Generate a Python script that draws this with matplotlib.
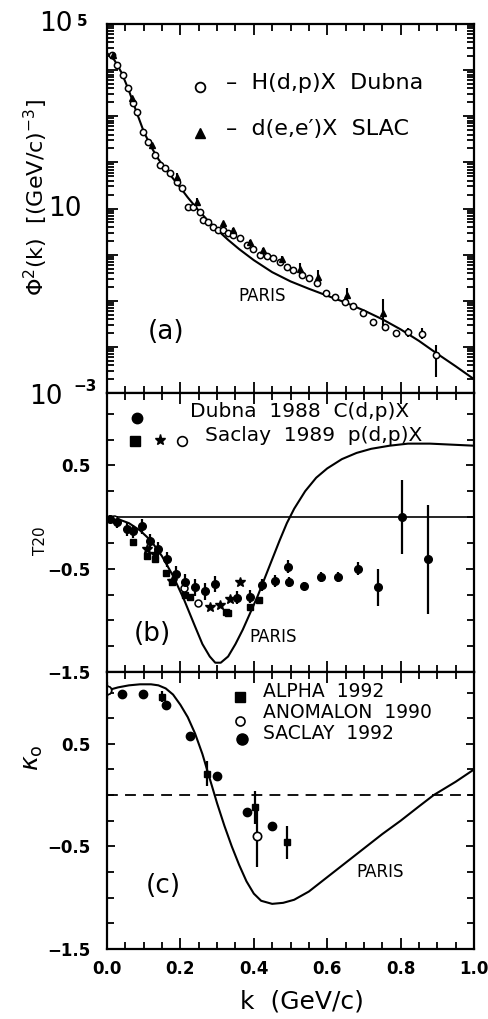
import numpy as np
import matplotlib
matplotlib.use("Agg")
import matplotlib.pyplot as plt
from matplotlib.ticker import MultipleLocator, FixedLocator, LogLocator, NullFormatter, FuncFormatter

plt.rcParams['font.family'] = ['DejaVu Sans']
plt.rcParams['mathtext.fontset'] = 'dejavusans'

# ---------------- Panel (a): momentum distribution (log10 values) ----------------
paris_a_k = [0.0, 0.02, 0.04, 0.06, 0.08, 0.10, 0.12, 0.14, 0.16, 0.18, 0.20, 0.22, 0.245,
             0.27, 0.30, 0.33, 0.36, 0.40, 0.45, 0.50, 0.55, 0.60, 0.65, 0.70, 0.75, 0.80,
             0.85, 0.90, 0.95, 1.0]
paris_a_log = [4.37, 4.22, 3.94, 3.55, 3.10, 2.67, 2.34, 2.07, 1.85, 1.65, 1.45, 1.24, 1.00,
               0.78, 0.54, 0.32, 0.12, -0.12, -0.38, -0.58, -0.74, -0.89, -1.04, -1.21,
               -1.40, -1.62, -1.87, -2.15, -2.42, -2.70]

dubna_a_k = [0.014, 0.027, 0.044, 0.057, 0.071, 0.082, 0.098, 0.112, 0.131, 0.144, 0.158,
             0.172, 0.191, 0.204, 0.221, 0.234, 0.253, 0.262, 0.275, 0.289, 0.302, 0.316,
             0.330, 0.343, 0.362, 0.381, 0.398, 0.417, 0.436, 0.452, 0.471, 0.490, 0.507,
             0.531, 0.550, 0.572, 0.597, 0.621, 0.649, 0.670, 0.698, 0.725, 0.757, 0.787,
             0.820, 0.858, 0.896]
dubna_a_log = [4.33, 4.11, 3.89, 3.61, 3.29, 3.09, 2.66, 2.44, 2.16, 1.94, 1.88,
               1.77, 1.57, 1.44, 1.03, 1.03, 0.92, 0.75, 0.70, 0.60, 0.53, 0.53,
               0.47, 0.42, 0.36, 0.21, 0.12, -0.01, -0.03, -0.08, -0.16, -0.27, -0.34,
               -0.44, -0.51, -0.62, -0.84, -0.92, -1.03, -1.12, -1.27, -1.46, -1.57, -1.70,
               -1.68, -1.72, -2.18]
dubna_a_err_lo = [0]*44 + [0.10, 0.12, 0.48]
dubna_a_err_hi = [0]*44 + [0.10, 0.12, 0.22]

slac_a_k = [0.016, 0.068, 0.123, 0.191, 0.245, 0.316, 0.343, 0.390, 0.425, 0.477,
            0.526, 0.575, 0.654, 0.752]
slac_a_log = [4.33, 3.39, 2.38, 1.68, 1.14, 0.68, 0.53, 0.27, 0.10, -0.10,
              -0.31, -0.49, -0.88, -1.27]
slac_a_err = [0, 0, 0, 0.08, 0.08, 0, 0.05, 0.05, 0.05, 0.08, 0.12, 0.15, 0.15, 0.30]

# ---------------- Panel (b): T20 ----------------
paris_b_k = [0.0, 0.03, 0.06, 0.09, 0.12, 0.15, 0.18, 0.21, 0.24, 0.26, 0.28, 0.295, 0.31,
             0.33, 0.35, 0.37, 0.39, 0.41, 0.43, 0.45, 0.47, 0.49, 0.51, 0.54, 0.57, 0.60,
             0.64, 0.68, 0.72, 0.77, 0.82, 0.88, 0.94, 1.0]
paris_b_v = [0.0, -0.02, -0.06, -0.13, -0.23, -0.38, -0.57, -0.80, -1.06, -1.23, -1.35,
             -1.41, -1.41, -1.35, -1.23, -1.09, -0.93, -0.77, -0.59, -0.41, -0.23, -0.06,
             0.08, 0.25, 0.38, 0.47, 0.56, 0.62, 0.66, 0.69, 0.71, 0.71, 0.70, 0.69]

dubna88_k = [0.008, 0.027, 0.054, 0.071, 0.095, 0.117, 0.139, 0.163, 0.188, 0.213, 0.240,
             0.267, 0.294, 0.354, 0.390, 0.422, 0.458, 0.493, 0.496, 0.537, 0.583, 0.629,
             0.684, 0.738, 0.804, 0.875]
dubna88_v = [-0.02, -0.05, -0.12, -0.14, -0.09, -0.23, -0.31, -0.41, -0.55, -0.63, -0.68,
             -0.72, -0.65, -0.78, -0.77, -0.66, -0.62, -0.48, -0.63, -0.67, -0.58, -0.58,
             -0.50, -0.68, 0.00, -0.41]
dubna88_err = [0.04, 0.06, 0.06, 0.06, 0.07, 0.07, 0.07, 0.07, 0.08, 0.08, 0.08,
               0.08, 0.08, 0.06, 0.06, 0.06, 0.06, 0.06, 0.05, 0.04, 0.05, 0.05,
               0.06, 0.18, 0.36, 0.53]

saclay_sq_k = [0.071, 0.109, 0.131, 0.161, 0.177, 0.213, 0.226, 0.324, 0.330, 0.390, 0.414]
saclay_sq_v = [-0.24, -0.38, -0.41, -0.54, -0.63, -0.75, -0.77, -0.92, -0.93, -0.87, -0.80]

saclay_star_k = [0.109, 0.131, 0.177, 0.281, 0.308, 0.335, 0.362]
saclay_star_v = [-0.31, -0.36, -0.62, -0.87, -0.85, -0.79, -0.63]

saclay_oc_k = [0.020, 0.210, 0.248]
saclay_oc_v = [-0.02, -0.69, -0.83]

# ---------------- Panel (c): kappa_0 ----------------
paris_c_k = [0.0, 0.03, 0.06, 0.09, 0.12, 0.14, 0.16, 0.18, 0.20, 0.22, 0.24, 0.26, 0.28,
             0.30, 0.32, 0.34, 0.36, 0.38, 0.40, 0.42, 0.45, 0.48, 0.51, 0.55, 0.60, 0.65,
             0.70, 0.75, 0.80, 0.85, 0.89, 0.95, 1.0]
paris_c_v = [1.02, 1.05, 1.07, 1.08, 1.08, 1.07, 1.04, 0.98, 0.88, 0.76, 0.60, 0.40, 0.16,
             -0.08, -0.30, -0.50, -0.68, -0.84, -0.96, -1.03, -1.06, -1.05, -1.02, -0.94,
             -0.80, -0.66, -0.52, -0.38, -0.25, -0.11, 0.0, 0.13, 0.25]

alpha_k = [0.150, 0.272, 0.403, 0.490]
alpha_v = [0.96, 0.21, -0.12, -0.46]
alpha_err = [0.05, 0.12, 0.16, 0.16]

anomalon_k = [0.0, 0.408]
anomalon_v = [1.02, -0.40]
anomalon_err = [0.08, 0.30]

saclay92_k = [0.0, 0.041, 0.098, 0.162, 0.226, 0.300, 0.381, 0.450]
saclay92_v = [1.02, 0.99, 0.99, 0.88, 0.58, 0.19, -0.16, -0.30]

xticks_major = [0.0, 0.2, 0.4, 0.6, 0.8, 1.0]

# ---------------- Figure ----------------
W, H = 488, 1019
fig = plt.figure(figsize=(W / 100, H / 100), dpi=100)
left, width = 107 / W, 367 / W
ax_a = fig.add_axes([left, 1 - 393 / H, width, 369 / H])
ax_b = fig.add_axes([left, 1 - 672 / H, width, 279 / H])
ax_c = fig.add_axes([left, 1 - 949 / H, width, 277 / H])

lw_axes = 1.6
for ax in (ax_a, ax_b, ax_c):
    for s in ax.spines.values():
        s.set_linewidth(lw_axes)
    ax.set_xlim(0, 1.0)
    ax.xaxis.set_major_locator(FixedLocator(xticks_major))
    ax.xaxis.set_minor_locator(MultipleLocator(0.05))
    ax.tick_params(which='both', direction='in', top=True, right=True, width=1.3)
    ax.tick_params(which='major', length=8)
    ax.tick_params(which='minor', length=5)
    ax.tick_params(axis='both', labelsize=12)
    ax.tick_params(axis='y', pad=12)
    ax.tick_params(axis='x', pad=8)

def fmt(v, p):
    return ('%.1f' % v).replace('-', '\u2212')

# ---- (a)
pa = [10 ** v for v in paris_a_log]
ax_a.plot(paris_a_k, pa, color='black', lw=1.5)
dv = np.array([10 ** v for v in dubna_a_log])
d_lo = dv - np.array([10 ** (v - e) for v, e in zip(dubna_a_log, dubna_a_err_lo)])
d_hi = np.array([10 ** (v + e) for v, e in zip(dubna_a_log, dubna_a_err_hi)]) - dv
ax_a.errorbar(dubna_a_k, dv, yerr=[d_lo, d_hi], fmt='o', mfc='white', mec='black',
              ms=4.5, mew=1.1, ecolor='black', elinewidth=1.5, capsize=0)
sv = np.array([10 ** v for v in slac_a_log])
s_lo = sv - np.array([10 ** (v - e) for v, e in zip(slac_a_log, slac_a_err)])
s_hi = np.array([10 ** (v + e) for v, e in zip(slac_a_log, slac_a_err)]) - sv
ax_a.errorbar(slac_a_k, sv, yerr=[s_lo, s_hi], fmt='^', color='black', ms=5,
              ecolor='black', elinewidth=1.5, capsize=0)
ax_a.set_yscale('log')
ax_a.set_ylim(1e-3, 1e5)
ax_a.yaxis.set_minor_locator(LogLocator(base=10, subs=np.arange(2, 10), numticks=100))
ax_a.yaxis.set_minor_formatter(NullFormatter())
ax_a.set_yticks([1e-3, 1e-2, 1e-1, 1, 10, 100, 1e3, 1e4, 1e5])
ax_a.set_yticklabels([''] * 9)
ax_a.tick_params(axis='x', labelbottom=False)
ytr = ax_a.get_yaxis_transform()
ax_a.text(-0.095, 1e5, '10', transform=ytr, ha='right', va='center', fontsize=19)
ax_a.text(-0.054, 10 ** 5.05, '5', transform=ytr, ha='right', va='center',
          fontsize=11, fontweight='bold')
ax_a.text(-0.068, 10, '10', transform=ytr, ha='right', va='center', fontsize=19)
ax_a.text(-0.12, 10 ** -3.08, '10', transform=ytr, ha='right', va='center', fontsize=19)
ax_a.text(-0.027, 10 ** -2.86, '\u22123', transform=ytr, ha='right', va='center',
          fontsize=11, fontweight='bold')
ax_a.set_ylabel(r'$\Phi^2$(k)  [(GeV/c)$^{-3}$]', fontsize=16)
ax_a.yaxis.set_label_coords(-0.155, 0.53)
# legend
ax_a.plot([0.253], [10 ** 3.63], 'o', mfc='white', mec='black', ms=7, mew=1.3)
ax_a.plot([0.253], [10 ** 2.64], '^', color='black', ms=7)
ax_a.text(0.325, 10 ** 3.72, '\u2013  H(d,p)X  Dubna', fontsize=16, va='center')
ax_a.text(0.325, 10 ** 2.73, '\u2013  d(e,e\u2032)X  SLAC', fontsize=16, va='center')
ax_a.text(0.422, 10 ** -0.90, 'PARIS', fontsize=12, va='center', ha='center')
ax_a.text(0.16, 10 ** -1.68, '(a)', fontsize=19, va='center', ha='center')

# ---- (b)
ax_b.plot(paris_b_k, paris_b_v, color='black', lw=1.5)
ax_b.axhline(0, color='black', lw=1.2)
ax_b.errorbar(dubna88_k, dubna88_v, yerr=dubna88_err, fmt='o', color='black', ms=5.5,
              ecolor='black', elinewidth=1.6, capsize=0)
ax_b.plot(saclay_sq_k, saclay_sq_v, 's', color='black', ms=5)
ax_b.plot(saclay_star_k, saclay_star_v, '*', color='black', ms=7)
ax_b.plot(saclay_oc_k, saclay_oc_v, 'o', mfc='white', mec='black', ms=5, mew=1.1)
ax_b.set_ylim(-1.5, 1.2)
ax_b.yaxis.set_major_locator(FixedLocator([-1.5, -0.5, 0.5]))
ax_b.yaxis.set_minor_locator(MultipleLocator(0.25))
ax_b.yaxis.set_major_formatter(FuncFormatter(fmt))
ax_b.tick_params(axis='y', which='major', length=6)
ax_b.tick_params(axis='x', labelbottom=False)
ax_b.set_ylabel('T20', fontsize=11)
ax_b.yaxis.set_label_coords(-0.16, 0.47)
ax_b.plot([0.082], [0.96], 'o', color='black', ms=7.5)
ax_b.plot([0.076], [0.74], 's', color='black', ms=6.5)
ax_b.plot([0.144], [0.75], '*', color='black', ms=8)
ax_b.plot([0.204], [0.74], 'o', mfc='white', mec='black', ms=7, mew=1.2)
ax_b.text(0.225, 1.02, 'Dubna  1988  C(d,p)X', fontsize=14.5, va='center')
ax_b.text(0.267, 0.79, 'Saclay  1989  p(d,p)X', fontsize=14.5, va='center')
ax_b.text(0.452, -1.16, 'PARIS', fontsize=12, va='center', ha='center')
ax_b.text(0.125, -1.13, '(b)', fontsize=19, va='center', ha='center')

# ---- (c)
ax_c.plot(paris_c_k, paris_c_v, color='black', lw=1.5)
ax_c.axhline(0, color='black', lw=1.3, ls=(0, (6, 4)))
ax_c.errorbar(alpha_k, alpha_v, yerr=alpha_err, fmt='s', color='black', ms=5,
              ecolor='black', elinewidth=1.6, capsize=0)
ax_c.errorbar(anomalon_k, anomalon_v, yerr=anomalon_err, fmt='o', mfc='white', mec='black',
              ms=6, mew=1.2, ecolor='black', elinewidth=1.6, capsize=0)
ax_c.plot(saclay92_k, saclay92_v, 'o', color='black', ms=6)
ax_c.set_ylim(-1.5, 1.2)
ax_c.yaxis.set_major_locator(FixedLocator([-1.5, -0.5, 0.5]))
ax_c.yaxis.set_minor_locator(MultipleLocator(0.25))
ax_c.yaxis.set_major_formatter(FuncFormatter(fmt))
ax_c.tick_params(axis='y', which='major', length=6)
ax_c.set_ylabel(r'$\kappa_{\rm o}$', fontsize=18)
ax_c.yaxis.set_label_coords(-0.17, 0.69)
ax_c.set_xlabel('k  (GeV/c)', fontsize=18)
ax_c.xaxis.set_label_coords(0.53, -0.145)
ax_c.plot([0.362], [0.96], 's', color='black', ms=6.5)
ax_c.plot([0.362], [0.725], 'o', mfc='white', mec='black', ms=6.5, mew=1.2)
ax_c.plot([0.367], [0.55], 'o', color='black', ms=8)
ax_c.text(0.425, 1.01, 'ALPHA  1992', fontsize=13.5, va='center')
ax_c.text(0.425, 0.81, 'ANOMALON  1990', fontsize=13.5, va='center')
ax_c.text(0.425, 0.60, 'SACLAY  1992', fontsize=13.5, va='center')
ax_c.text(0.744, -0.75, 'PARIS', fontsize=12, va='center', ha='center')
ax_c.text(0.153, -0.89, '(c)', fontsize=19, va='center', ha='center')

for ax in (ax_a, ax_b, ax_c):
    for lab in ax.get_xticklabels() + ax.get_yticklabels():
        lab.set_fontweight('bold')

fig.savefig('out.png', dpi=100)
